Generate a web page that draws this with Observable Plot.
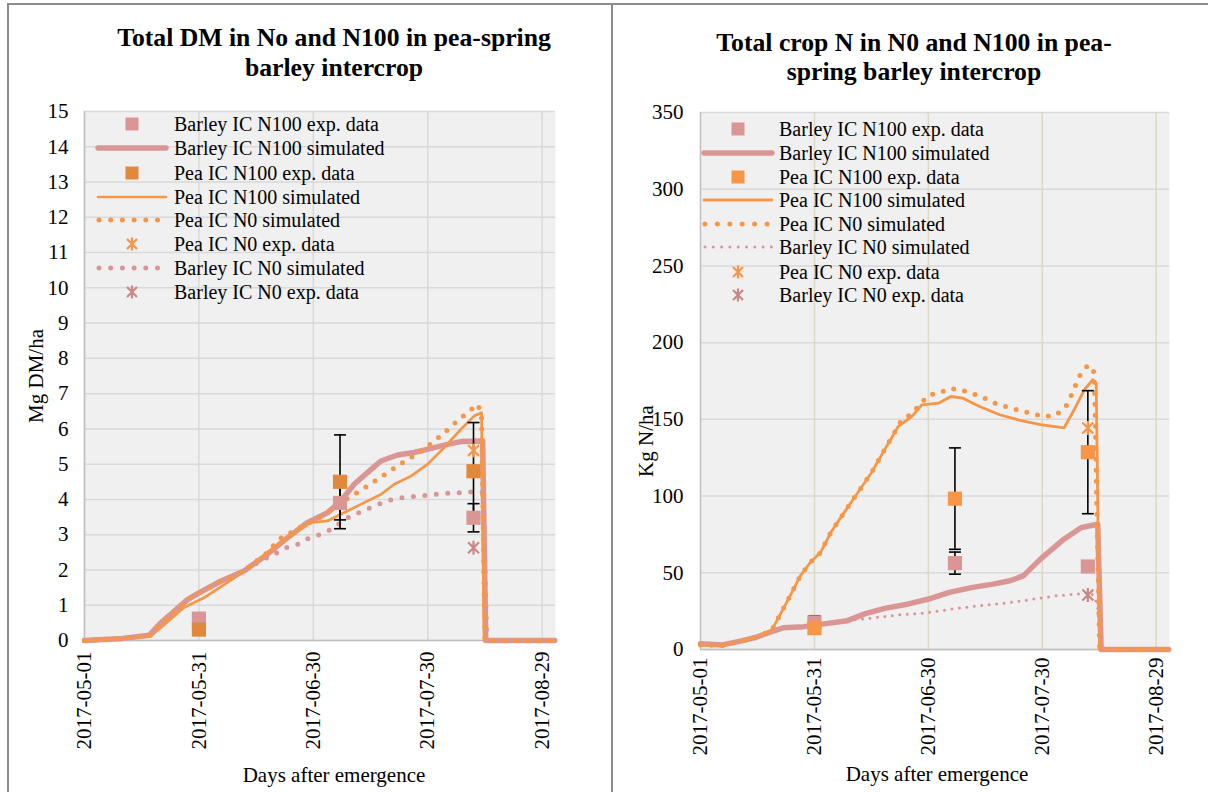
<!DOCTYPE html>
<html>
<head>
<meta charset="utf-8">
<script src="https://cdn.jsdelivr.net/npm/d3@7"></script>
<script src="https://cdn.jsdelivr.net/npm/@observablehq/plot@0.6"></script>
<style>
  body { margin: 0; background: white; }
  #root { position: relative; width: 1208px; height: 792px; overflow: hidden; background: white; font-family: "Liberation Serif", "Times New Roman", serif; color: black; }
  .abs { position: absolute; white-space: nowrap; }
  .title { font-weight: bold; font-size: 25.7px; text-align: center; }
  .axt { font-size: 21px; }
  .leg { font-size: 20px; }
</style>
</head>
<body>
<div id="root"></div>
<script>
// ---------- shared axis data ----------
const xTicks = [0, 30, 60, 90, 120];            // days after 2017-05-01
const xTickLabels = ["2017-05-01", "2017-05-31", "2017-06-30", "2017-07-30", "2017-08-29"];
const dmTicks = [0,1,2,3,4,5,6,7,8,9,10,11,12,13,14,15];
const nTicks = [0, 50, 100, 150, 200, 250, 300, 350];

// ---------- Left chart: Total DM (Mg DM/ha) ----------
const barleyN100SimDM = [[0,0],[10,0.06],[17,0.15],[20,0.5],[22.6,0.74],[27,1.16],[30,1.35],[35.7,1.68],[41.8,1.97],[47.9,2.44],[53.2,2.91],[58.4,3.34],[63.7,3.62],[67.2,3.95],[70.7,4.43],[74.2,4.76],[77.7,5.09],[82.1,5.26],[86.4,5.33],[91.7,5.47],[95.2,5.56],[98.7,5.64],[104.4,5.66],[105.2,0],[123.3,0]];
const peaN100SimDM = [[0,0],[10,0.05],[17.3,0.12],[20,0.36],[26,0.93],[31.3,1.21],[37.4,1.64],[42.7,2.02],[47.9,2.49],[53.2,2.91],[59.3,3.34],[63.7,3.39],[68,3.62],[72.4,3.86],[77.7,4.14],[81.2,4.43],[85.6,4.66],[90,5.0],[94.3,5.47],[98.7,5.99],[102.2,6.37],[104.1,6.46],[104.8,0],[123.3,0]];
const peaN0SimDM = [[0,0],[10,0.06],[17.3,0.15],[20,0.5],[22.6,0.74],[27,1.16],[30,1.35],[35.7,1.68],[41.8,1.97],[47.9,2.49],[51,2.87],[56.7,3.22],[61.9,3.5],[67.2,3.91],[72.9,4.29],[78.1,4.66],[83.4,5.04],[88.6,5.39],[93.9,5.85],[98.2,6.27],[103.1,6.7],[104.1,6.41],[105,0],[123.3,0]];
const barleyN0SimDM = [[0,0],[10,0.06],[17.3,0.15],[20,0.5],[22.6,0.74],[27,1.16],[30,1.35],[35.7,1.68],[41.8,1.97],[46,2.25],[49.7,2.44],[52.8,2.63],[55.8,2.72],[58.9,2.91],[61.9,3.01],[64.6,3.15],[67.2,3.34],[69.8,3.53],[72.9,3.67],[75.9,3.81],[79,3.95],[82.1,4.03],[85.1,4.07],[88.2,4.1],[91.7,4.14],[94.7,4.17],[97.8,4.19],[100.9,4.21],[104.5,4.2],[105.5,0],[123.3,0]];
const barleyN100ExpDM = [[30,0.62],[67,3.9],[102,3.48]];
const peaN100ExpDM = [[30,0.31],[67,4.5],[102,4.8]];
const peaN0ExpDM = [[102,5.39]];
const barleyN0ExpDM = [[102,2.63]];
const errDM = [[67,3.17,5.83],[67,3.42,4.38],[102,3.42,6.18],[102,3.08,3.88]]; // [day, low, high]

// ---------- Right chart: Total crop N (Kg N/ha) ----------
const peaN100SimN = [[0,3.0],[5.8,2.6],[11.1,5.8],[14.7,8.0],[18.7,12.3],[22.7,30.7],[26.3,48],[28.9,56.7],[31.6,63.2],[34.3,76.2],[37.8,89.2],[41.4,102.2],[45,115.2],[48.5,130.3],[52.1,145.5],[55.7,152],[58.3,159.5],[62.8,160.6],[65.9,164.9],[69,163.9],[73.5,158.4],[78.8,153],[84.1,149.4],[89.5,146.5],[95.7,144.4],[98.4,156.3],[101.1,169.3],[103.3,175.8],[104.2,173.6],[105.1,0],[123.3,0]];
const peaN0SimN = [[0,3.0],[5.8,2.6],[11.1,5.8],[14.7,8.0],[18.7,12.3],[22.7,30.7],[26.3,48],[28.9,56.7],[31.6,63.2],[34.3,76.2],[37.8,89.2],[41.4,102.2],[45,115.2],[48.5,130.3],[53,149.8],[55.7,153.7],[57.9,160.2],[60.1,165.8],[63,167.5],[65.9,170.1],[69,168.8],[72.1,166.4],[75.2,163.4],[77.9,160.2],[81,157.8],[84.1,155.8],[87.3,153.7],[90.4,152],[93.5,152.6],[96.2,158.4],[97.5,164.9],[98.8,172.5],[100.2,180.1],[102.1,185.5],[103.7,180.5],[105.1,0],[123.3,0]];
const barleyN100SimN = [[0,3.7],[5.8,3.0],[11.1,5.8],[14.7,8.0],[18.3,11.3],[21.8,14.1],[27.2,14.9],[32.5,16.7],[38.7,18.8],[43.2,23.2],[48.5,26.8],[54.8,29.7],[60.1,32.9],[65.5,37.2],[71.7,40.5],[77,42.6],[81.5,44.8],[85,48],[89.5,58.9],[95.7,71.9],[100.2,79.4],[104.6,81.6],[105.5,0],[123.3,0]];
const barleyN0SimN = [[0,3.7],[5.8,3.0],[11.1,5.8],[14.7,8.0],[18.3,11.3],[21.8,14.1],[27.2,14.9],[32.5,16.7],[38.7,18.8],[41.4,19.5],[46.7,21],[52.1,22.5],[59.2,23.8],[66.3,26.4],[73.5,28.6],[80.6,30.3],[86.8,32.5],[93.9,35.1],[99.3,36.1],[102.8,37.2],[104.5,30],[105.3,0],[123.3,0]];
const barleyN100ExpN = [[30,17.7],[67,56.3],[102,54.1]];
const peaN100ExpN = [[30,13.9],[67,98.3],[102,128.6]];
const peaN0ExpN = [[102,144.4]];
const barleyN0ExpN = [[102,35.5]];
const errN = [[30,13.9,22.0],[67,65.3,131.4],[67,49.1,63.5],[102,88.5,168.7]];

// ---------- styling ----------
const PINK = "#d99694", ORANGE = "#f79646", DARKORANGE = "#e0883c", STARPINK = "#c98886";
const BG = "#f0f0f0", GRID = "#d9d9d9", AXIS = "#bfbfbf", TAN = "#ddd9c3";

const starSymbol = { draw(ctx, size) { const r = Math.sqrt(size / Math.PI); const d = r * 0.78;
  ctx.moveTo(-d, -d); ctx.lineTo(d, d); ctx.moveTo(-d, d); ctx.lineTo(d, -d); ctx.moveTo(0, -r); ctx.lineTo(0, r); } };
const capSymbol = { draw(ctx, size) { const r = Math.sqrt(size / Math.PI); ctx.moveTo(-r, 0); ctx.lineTo(r, 0); } };

const X = d => d[0], Y = d => d[1];
function lineMark(data, stroke, width, dash) {
  return Plot.line(data, {x: X, y: Y, stroke, strokeWidth: width, strokeLinecap: "round", strokeLinejoin: "round", strokeDasharray: dash});
}
function errMarks(errs) {
  return [
    Plot.ruleX(errs, {x: d => d[0], y1: d => d[1], y2: d => d[2], stroke: "black", strokeWidth: 1.6}),
    Plot.dot(errs, {x: d => d[0], y: d => d[1], symbol: capSymbol, r: 6, stroke: "black", fill: "none", strokeWidth: 1.6}),
    Plot.dot(errs, {x: d => d[0], y: d => d[2], symbol: capSymbol, r: 6, stroke: "black", fill: "none", strokeWidth: 1.6})
  ];
}
const svgStyle = {fontFamily: "'Liberation Serif', 'Times New Roman', serif", fontSize: "21px", color: "black", background: "transparent", overflow: "visible"};

const leftPlot = Plot.plot({
  width: 612, height: 792,
  marginTop: 111, marginBottom: 152, marginLeft: 84, marginRight: 57,
  x: {domain: [0, 123.5], label: null},
  y: {domain: [0, 15], label: null},
  style: svgStyle,
  marks: [
    Plot.frame({fill: BG, stroke: null}),
    Plot.ruleY(dmTicks, {stroke: GRID, strokeWidth: 1.5}),
    Plot.ruleX(xTicks, {stroke: GRID, strokeWidth: 1.5}),
    Plot.ruleX([0], {stroke: AXIS, strokeWidth: 1.5}),
    Plot.ruleY([0], {stroke: AXIS, strokeWidth: 1.5}),
    lineMark(barleyN100SimDM, PINK, 5.5),
    lineMark(peaN100SimDM, ORANGE, 2.7),
    lineMark(barleyN0SimDM, PINK, 5, "0 11.5"),
    lineMark(peaN0SimDM, ORANGE, 5, "0 11"),
    ...errMarks(errDM),
    Plot.dot(barleyN100ExpDM, {x: X, y: Y, symbol: "square", r: 8, fill: PINK}),
    Plot.dot(peaN100ExpDM, {x: X, y: Y, symbol: "square", r: 8, fill: DARKORANGE}),
    Plot.dot(peaN0ExpDM, {x: X, y: Y, symbol: starSymbol, r: 7, stroke: ORANGE, fill: "none", strokeWidth: 2.2}),
    Plot.dot(barleyN0ExpDM, {x: X, y: Y, symbol: starSymbol, r: 7, stroke: STARPINK, fill: "none", strokeWidth: 2.2}),
    Plot.axisY(dmTicks, {tickSize: 0, tickPadding: 16, label: null}),
    Plot.axisX(xTicks, {tickSize: 0, tickPadding: 11, tickRotate: -90, label: null, tickFormat: d => xTickLabels[xTicks.indexOf(d)]})
  ]
});

const rightPlot = Plot.plot({
  width: 596, height: 792,
  marginTop: 112, marginBottom: 143, marginLeft: 88, marginRight: 39,
  x: {domain: [0, 123.5], label: null},
  y: {domain: [0, 350], label: null},
  style: svgStyle,
  marks: [
    Plot.frame({fill: BG, stroke: null}),
    Plot.ruleY(nTicks, {stroke: GRID, strokeWidth: 1.5}),
    Plot.ruleX(xTicks.slice(1), {stroke: TAN, strokeWidth: 1.5}),
    Plot.ruleX([0], {stroke: AXIS, strokeWidth: 1.5}),
    Plot.ruleY([0], {stroke: AXIS, strokeWidth: 1.5}),
    lineMark(barleyN100SimN, PINK, 5.5),
    lineMark(peaN100SimN, ORANGE, 2.8),
    lineMark(barleyN0SimN, PINK, 3, "0 7.5"),
    lineMark(peaN0SimN, ORANGE, 5, "0 11"),
    ...errMarks(errN),
    Plot.dot(barleyN100ExpN, {x: X, y: Y, symbol: "square", r: 8, fill: PINK}),
    Plot.dot(peaN100ExpN, {x: X, y: Y, symbol: "square", r: 8, fill: ORANGE}),
    Plot.dot(peaN0ExpN, {x: X, y: Y, symbol: starSymbol, r: 7, stroke: ORANGE, fill: "none", strokeWidth: 2.2}),
    Plot.dot(barleyN0ExpN, {x: X, y: Y, symbol: starSymbol, r: 7, stroke: STARPINK, fill: "none", strokeWidth: 2.2}),
    Plot.axisY(nTicks, {tickSize: 0, tickPadding: 17, label: null}),
    Plot.axisX(xTicks, {tickSize: 0, tickPadding: 8, tickRotate: -90, label: null, tickFormat: d => xTickLabels[xTicks.indexOf(d)]})
  ]
});

const root = document.getElementById("root");
function place(el, left, top) { el.style.position = "absolute"; el.style.left = left + "px"; el.style.top = top + "px"; root.appendChild(el); }
place(leftPlot, 0, 0);
place(rightPlot, 612, 0);

function text(str, cls, x, y, rotate) {
  const d = document.createElement("div");
  d.className = "abs " + cls;
  d.textContent = str;
  d.style.left = x + "px"; d.style.top = y + "px";
  d.style.transform = "translate(-50%, -50%)" + (rotate ? " rotate(" + rotate + "deg)" : "");
  root.appendChild(d);
}
// titles
text("Total DM in No and N100 in pea-spring", "title", 334, 38);
text("barley intercrop", "title", 334, 68);
text("Total crop N in N0 and N100 in pea-", "title", 914, 43);
text("spring barley intercrop", "title", 914, 72);
// axis titles
text("Mg DM/ha", "axt", 36, 376, -90);
text("Kg N/ha", "axt", 646, 441, -90);
text("Days after emergence", "axt", 334, 775);
text("Days after emergence", "axt", 937, 774);

// legends
function swatch(e, w) {
  const ns = "http://www.w3.org/2000/svg";
  const s = document.createElementNS(ns, "svg");
  s.setAttribute("width", w); s.setAttribute("height", 24);
  const c = w / 2;
  let el;
  if (e.type === "square") {
    el = document.createElementNS(ns, "rect");
    el.setAttribute("x", c - 6.5); el.setAttribute("y", 5.5); el.setAttribute("width", 13); el.setAttribute("height", 13);
    el.setAttribute("fill", e.color);
  } else if (e.type === "star") {
    el = document.createElementNS(ns, "path");
    el.setAttribute("d", `M${c-5},7L${c+5},17M${c-5},17L${c+5},7M${c},5.5L${c},18.5`);
    el.setAttribute("stroke", e.color); el.setAttribute("stroke-width", 2.2); el.setAttribute("fill", "none");
  } else {
    el = document.createElementNS(ns, "line");
    el.setAttribute("x1", e.x1); el.setAttribute("x2", e.x2); el.setAttribute("y1", 12); el.setAttribute("y2", 12);
    el.setAttribute("stroke", e.color); el.setAttribute("stroke-width", e.width);
    el.setAttribute("stroke-linecap", "round");
    if (e.dash) el.setAttribute("stroke-dasharray", e.dash);
  }
  s.appendChild(el);
  return s;
}
function legend(entries, swLeft, swWidth, textLeft, ys) {
  entries.forEach((e, i) => {
    const sw = swatch(e, swWidth);
    sw.style.position = "absolute"; sw.style.left = swLeft + "px"; sw.style.top = (ys[i] - 12) + "px";
    root.appendChild(sw);
    const t = document.createElement("div");
    t.className = "abs leg";
    t.textContent = e.label;
    t.style.left = textLeft + "px"; t.style.top = ys[i] + "px"; t.style.transform = "translateY(-50%)";
    root.appendChild(t);
  });
}
const leftLegend = [
  {label: "Barley IC N100 exp. data", type: "square", color: PINK},
  {label: "Barley IC N100 simulated", type: "line", color: PINK, width: 5.5, x1: 4, x2: 72},
  {label: "Pea IC N100 exp. data", type: "square", color: DARKORANGE},
  {label: "Pea IC N100 simulated", type: "line", color: ORANGE, width: 2.7, x1: 4, x2: 72},
  {label: "Pea IC N0 simulated", type: "line", color: ORANGE, width: 5, dash: "0 11.7", x1: 5, x2: 72},
  {label: "Pea IC N0 exp. data", type: "star", color: ORANGE},
  {label: "Barley IC N0 simulated", type: "line", color: PINK, width: 5, dash: "0 11.7", x1: 5, x2: 72},
  {label: "Barley IC N0 exp. data", type: "star", color: STARPINK}
];
legend(leftLegend, 94, 76, 174, [124, 148, 173, 197, 220, 244, 268, 292]);
const rightLegend = [
  {label: "Barley IC N100 exp. data", type: "square", color: PINK},
  {label: "Barley IC N100 simulated", type: "line", color: PINK, width: 5.5, x1: 5, x2: 73},
  {label: "Pea IC N100 exp. data", type: "square", color: ORANGE},
  {label: "Pea IC N100 simulated", type: "line", color: ORANGE, width: 2.8, x1: 5, x2: 73},
  {label: "Pea IC N0 simulated", type: "line", color: ORANGE, width: 5, dash: "0 12.4", x1: 6, x2: 72},
  {label: "Barley IC N0 simulated", type: "line", color: PINK, width: 3, dash: "0 8.3", x1: 6, x2: 73},
  {label: "Pea IC N0 exp. data", type: "star", color: ORANGE},
  {label: "Barley IC N0 exp. data", type: "star", color: STARPINK}
];
legend(rightLegend, 699, 78, 779, [129, 153, 177, 200, 224, 247, 272, 295]);

// panel borders
function box(left, top, width, height, css) {
  const d = document.createElement("div");
  d.style.position = "absolute"; d.style.left = left + "px"; d.style.top = top + "px";
  d.style.width = width + "px"; d.style.height = height + "px"; d.style.cssText += css;
  root.appendChild(d);
}
box(7, 3, 1201, 2, "background:#8c8c8c;");
box(7, 3, 2, 789, "background:#8c8c8c;");
box(611, 3, 2, 789, "background:#8c8c8c;");
</script>
</body>
</html>
